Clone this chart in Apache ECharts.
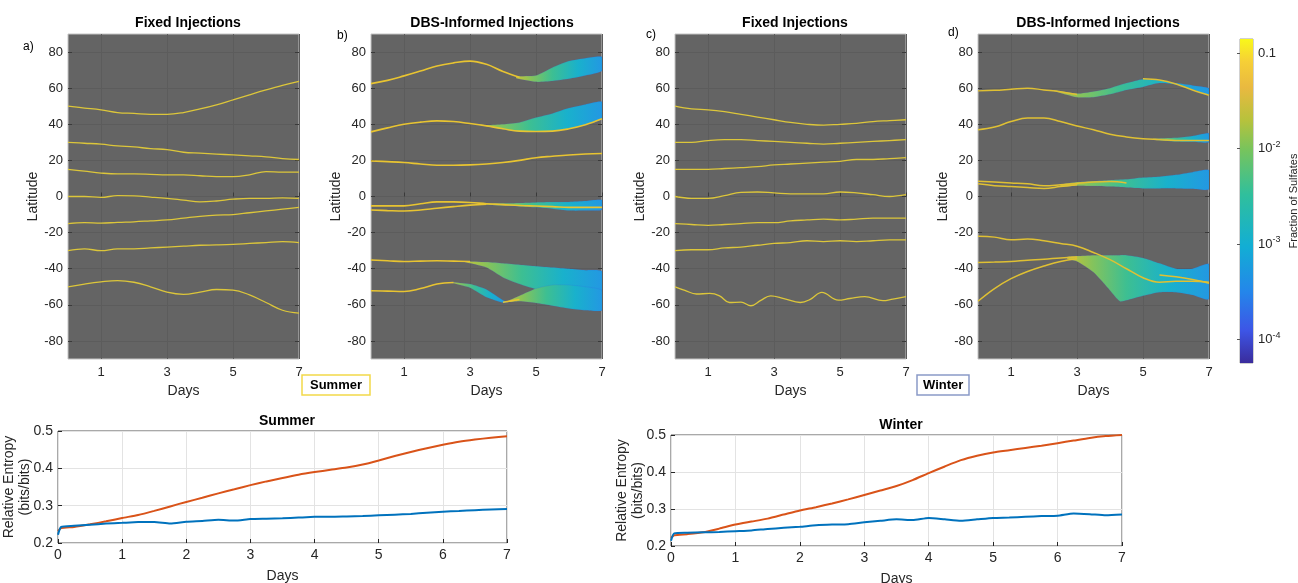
<!DOCTYPE html>
<html><head><meta charset="utf-8">
<script src="https://cdn.jsdelivr.net/npm/echarts@6/dist/echarts.min.js"></script>
<style>html,body{margin:0;padding:0;background:#fff}#c{width:1298px;height:583px}</style>
</head><body><div id="c"></div>
<script>
// ---------- DATA ----------
const days = [0,0.5,1,1.5,2,2.5,3,3.5,4,4.5,5,5.5,6,6.5,7];
const topTicksX = [1,3,5,7];
const topTicksY = [-80,-60,-40,-20,0,20,40,60,80];

// Panel a) Summer, fixed injections
const panelA = [
  [50,49,48,46.5,46,45.5,45.5,46.5,48.5,50.8,53.5,56.3,59,61.5,63.7],
  [30,29.5,29,28,27.5,26.5,26,24.5,24,23.5,23,22.5,22,21,20.5],
  [15,14,13,12.5,12.5,12.3,12,12,11.5,11,11,12,13.8,13.5,13.5],
  [0,0,-0.5,0.5,0.3,-0.3,-1,-2,-3,-2.5,-1.5,-1,-1,-0.8,-1],
  [-15,-14.5,-14.8,-14.3,-14,-13.5,-13,-12,-11,-10.3,-10,-9,-8,-7,-6],
  [-30,-29,-30,-29,-29,-28.5,-28,-27.5,-27,-26.8,-26.5,-26,-25.5,-25,-25.5],
  [-50,-48.5,-47.3,-46.6,-47.5,-50,-53,-54.2,-53,-51.5,-51.8,-54.5,-58.7,-63,-64.6]
];
// Panel b) Summer, DBS-informed injections (yellow cores)
const panelB = [
  [62.5,64.3,66.8,69.5,72.3,74,75,73.2,69.2,66,null,null,null,null,null],
  [35.8,38,40,41.2,41.9,41.5,40.4,39.1,37.5,36.2,36,36.2,37.5,39.7,43],
  [19.7,19.3,18.8,18,17.3,17.3,17.5,18,18.8,20,21.5,22.3,23,23.5,23.8],
  [-5.2,-5.2,-5.2,-4,-3,-3,-3.3,-4,-4.5,-5,-5.3,-5.6,-6,-6,-6],
  [-7.5,-7.8,-8,-7.5,-6.5,-5.6,-4.8,-4.3,null,null,null,null,null,null,null],
  [-35.2,-35.6,-36,-35.8,-35.6,-35.8,-36,null,null,null,null,null,null,null,null],
  [-52.2,-52.4,-52.6,-51,-48.5,-47.6,null,null,null,null,null,null,null,null,null],
  [null,null,null,null,null,null,null,null,-58.6,-57,null,null,null,null,null]
];
// Plume bands [day, lower, upper]
const bandB1 = [[4.4,65.5,66.5],[5,63.5,67],[5.5,64,71.4],[6,65.2,75],[6.5,67,76.6],[7,69.6,77.3]];
const bandB2 = [[3.2,40,40.2],[3.5,38.9,39.6],[4,37.3,40],[4.5,36,41],[5,35.8,43.7],[5.5,36.1,46],[6,37.5,49],[6.5,39.6,51],[7,43,52.4]];
const bandB4 = [[3.5,-4.5,-4],[4,-5,-3.8],[4.5,-5.5,-3.6],[5,-6,-3.3],[5.5,-6.8,-3.1],[6,-7.8,-3],[6.5,-7.8,-2.5],[7,-7.3,-2]];
const bandB5 = [[2.8,-36.2,-35.8],[3.5,-39.3,-36.3],[4,-44.8,-37],[4.5,-48.5,-37.8],[5,-51.3,-38.6],[5.5,-53,-39.3],[6,-55,-40],[6.5,-56.5,-40.8],[7,-57.5,-41.5]];
const bandB6a = [[2.4,-47.6,-47.3],[3,-50.5,-48.5],[3.5,-55.8,-51.5],[4,-58.8,-57.5],[4.1,-58.7,-58.3]];
const bandB6b = [[4.1,-58.6,-58.3],[4.5,-58,-55],[5,-59,-51],[5.5,-60.5,-49],[6,-62,-49],[6.5,-63,-50],[7,-63,-52]];

// Panel c) Winter, fixed injections
const panelC = [
  [50,48.5,48,47,45.5,44,42.5,41,40,39.5,40,40.5,41.5,42,42.5],
  [30,30,31,31.5,31.5,31,30.5,30,29.5,29,29.5,30,30.5,31,31.5],
  [15,15,15,15.5,16,16.5,17.5,18,18.5,19,19.5,20.5,20.5,21,21.5],
  [0,-1,-1,0.5,2.3,2.5,2,1.5,1.5,1.5,2.5,2,1,0,1],
  [-15,-15.5,-16,-15.5,-15,-14.5,-14.5,-13.5,-13,-12.5,-13,-12.5,-12,-12,-12],
  [-30,-29.5,-29.5,-28.5,-28,-27,-26,-25.5,-24.5,-25,-24.5,-25,-24.5,-24,-24]
];
const c7Days = [0,0.3,0.65,1.05,1.35,1.65,2.0,2.3,2.6,2.9,3.3,3.8,4.1,4.45,4.95,5.3,5.75,6.3,6.6,7.0];
const c7Lat  = [-50,-52,-54,-53.7,-55,-58.7,-58.5,-60.5,-57.5,-55,-56.5,-58.7,-57,-53.1,-57.4,-56.5,-55.5,-57.7,-56.8,-55.5];

// Panel d) Winter, DBS-informed injections (yellow cores)
const panelD = [
  [58.5,58.8,59.4,60,59,58,56.5,null,null,null,null,null,null,null,null],
  [null,null,null,null,null,null,null,null,null,null,65.2,64.5,62.3,59,56.1],
  [37,38.5,41.5,43.5,43.5,41.5,39,37,34.5,33,32,31.5,31,31,31],
  [8.5,8,7.5,7,6,6.5,7.2,8,8.3,7.5,null,null,null,null,null],
  [7,6,5.5,5,4.5,5.5,6.5,null,null,null,null,null,null,null,null],
  [-22,-22.5,-24,-23.5,-24.5,-26,-27.5,-31,-35,-40,-45,-47.5,-47,-47,-47.5],
  [null,null,null,null,null,null,null,null,null,null,null,-43.5,-44.5,-46,-48],
  [-36.5,-36.3,-36,-35.3,-34.8,-34,-33.5,null,null,null,null,null,null,null,null],
  [-58,-51,-45.5,-41.5,-38.5,-36,-34.5,null,null,null,null,null,null,null,null]
];
const bandD1 = [[2.3,58.5,58.8],[3,55,57],[3.5,55,58.2],[4,56.6,60],[4.5,59,62.8],[5,60.7,65],[5.5,62.8,64.3],[6,62,62.8],[6.5,59.2,61.5],[7,56.1,60]];
const bandD2 = [[5.3,31.5,32],[6,30.5,32.5],[6.5,30.3,33.5],[7,30,35]];
const bandD3 = [[2.5,5.5,6.5],[3,6,8],[3.5,5.8,8.5],[4,5.5,9],[4.5,5,9.5],[5,4.5,10.5],[5.5,4.5,11],[6,4.5,12],[6.5,4.3,13.5],[7,4,14.5]];
const bandD4 = [[2.7,-34.5,-33.5],[3,-36,-33],[3.5,-42,-32.5],[4,-52,-32.5],[4.3,-58,-32.5],[4.5,-57.5,-32.5],[5,-55,-34],[5.5,-53,-37],[6,-53,-40],[6.5,-54.5,-40],[7,-56.8,-37.5]];

// Colorbar (log scale)
const cbMin = 5.7e-5, cbMax = 0.14;
const cbTicks = [1e-4, 1e-3, 1e-2, 1e-1];

// Relative entropy
const entDays = [0,0.05,0.25,0.5,0.75,1,1.25,1.5,1.75,2,2.25,2.5,2.75,3,3.25,3.5,3.75,4,4.25,4.5,4.75,5,5.25,5.5,5.75,6,6.25,6.5,6.75,7];
const sumDBS   = [0.232,0.240,0.243,0.250,0.258,0.267,0.275,0.286,0.298,0.310,0.321,0.333,0.344,0.355,0.365,0.374,0.383,0.390,0.396,0.402,0.410,0.421,0.433,0.444,0.454,0.463,0.471,0.477,0.482,0.486];
const sumFixed = [0.222,0.243,0.246,0.249,0.252,0.254,0.256,0.256,0.252,0.257,0.259,0.262,0.260,0.264,0.265,0.266,0.268,0.270,0.270,0.271,0.272,0.274,0.276,0.278,0.281,0.284,0.286,0.288,0.290,0.291];
const winDBS   = [0.222,0.229,0.232,0.237,0.247,0.258,0.266,0.274,0.285,0.296,0.305,0.315,0.326,0.338,0.350,0.362,0.378,0.397,0.415,0.432,0.444,0.453,0.459,0.465,0.471,0.478,0.485,0.492,0.497,0.500];
const winFixed = [0.214,0.234,0.236,0.237,0.238,0.240,0.242,0.246,0.249,0.252,0.256,0.258,0.259,0.264,0.268,0.272,0.270,0.276,0.272,0.268,0.272,0.276,0.277,0.279,0.281,0.282,0.288,0.286,0.283,0.285];

// ---------- CHART ----------
const FONT = "'Liberation Sans', Arial, Helvetica, sans-serif";
const TXT = '#262626';
const YEL = '#dcc63a';
const chart = echarts.init(document.getElementById('c'), null, {renderer: 'canvas'});

const topGrids = [
  {left: 68, top: 34, width: 231, height: 325},
  {left: 371, top: 34, width: 231, height: 325},
  {left: 675, top: 34, width: 231, height: 325},
  {left: 978, top: 34, width: 231, height: 325}
];
const grids = topGrids.map(g => Object.assign({show: true, backgroundColor: '#646464', borderColor: '#c4c4c4', borderWidth: 1, outerBoundsMode: 'none'}, g));
grids.push({left: 1240, top: 39, width: 13, height: 324, show: true, borderColor: '#8a8a8a', borderWidth: 0.8, outerBoundsMode: 'none'}); // 4 colorbar
grids.push({left: 58, top: 431, width: 449, height: 112, show: true, borderColor: TXT, borderWidth: 0.8, outerBoundsMode: 'none'}); // 5
grids.push({left: 671, top: 435, width: 451, height: 111, show: true, borderColor: TXT, borderWidth: 0.8, outerBoundsMode: 'none'}); // 6

const xAxes = [], yAxes = [];
for (let i = 0; i < 4; i++) {
  xAxes.push({type: 'value', gridIndex: i, min: 0, max: 7, interval: 1,
    name: 'Days', nameLocation: 'middle', nameGap: 24,
    nameTextStyle: {fontFamily: FONT, fontSize: 14, color: TXT},
    axisLine: {show: false},
    axisTick: {show: true, inside: true, length: 4, customValues: topTicksX, lineStyle: {color: '#3a3a3a'}},
    axisLabel: {customValues: topTicksX, fontFamily: FONT, fontSize: 13, color: TXT, margin: 7},
    splitLine: {show: true, lineStyle: {color: '#5c5c5c', width: 1}}
  });
}
for (let i = 0; i < 4; i++) {
  yAxes.push({type: 'value', gridIndex: i, min: -90, max: 90, interval: 10,
    name: 'Latitude', nameLocation: 'middle', nameGap: 27,
    nameTextStyle: {fontFamily: FONT, fontSize: 14, color: TXT},
    axisLine: {show: false},
    axisTick: {show: true, inside: true, length: 4, customValues: topTicksY, lineStyle: {color: '#3a3a3a'}},
    axisLabel: {customValues: topTicksY, fontFamily: FONT, fontSize: 13, color: TXT, margin: 5},
    splitLine: {show: true, lineStyle: {color: '#5c5c5c', width: 1}}
  });
}
for (let i = 0; i < 4; i++) {
  yAxes.push({type: 'value', gridIndex: i, position: 'right', min: -90, max: 90, interval: 10,
    axisLine: {show: false},
    axisTick: {show: true, inside: true, length: 4, customValues: topTicksY, lineStyle: {color: '#3a3a3a'}},
    axisLabel: {show: false}, splitLine: {show: false}
  });
}
// colorbar axes (x index 4, y index 8)
xAxes.push({type: 'value', gridIndex: 4, min: 0, max: 1, show: false});
yAxes.push({type: 'log', gridIndex: 4, logBase: 10, min: cbMin, max: cbMax, position: 'right',
  name: 'Fraction of Sulfates', nameLocation: 'middle', nameGap: 35, nameRotate: 90,
  nameTextStyle: {fontFamily: FONT, fontSize: 11, color: TXT},
  axisLine: {show: false},
  axisTick: {show: true, inside: true, length: 3, customValues: cbTicks, lineStyle: {color: '#555'}},
  axisLabel: {customValues: cbTicks, margin: 5, fontFamily: FONT, color: TXT,
    formatter: function (v) {
      const e = Math.round(Math.log10(v));
      if (e === -1) return '{b|0.1}';
      return '{b|10}{s|' + e + '}';
    },
    rich: {b: {fontFamily: FONT, fontSize: 13, color: TXT}, s: {fontFamily: FONT, fontSize: 9, color: TXT, padding: [0, 0, 9, 0]}}
  },
  splitLine: {show: false}
});
// entropy axes (x index 5,6 ; y index 9,10)
[5, 6].forEach(gi => {
  xAxes.push({type: 'value', gridIndex: gi, min: 0, max: 7, interval: 1,
    name: 'Days', nameLocation: 'middle', nameGap: 26,
    nameTextStyle: {fontFamily: FONT, fontSize: 14, color: TXT},
    axisLine: {show: false},
    axisTick: {show: true, inside: true, length: 4, lineStyle: {color: TXT}},
    axisLabel: {fontFamily: FONT, fontSize: 14, color: TXT, margin: 5},
    splitLine: {show: true, lineStyle: {color: '#e3e3e3'}}
  });
  yAxes.push({type: 'value', gridIndex: gi, min: 0.2, max: 0.5, interval: 0.1,
    name: 'Relative Entropy\n(bits/bits)', nameLocation: 'middle', nameGap: 25, nameMoveOverlap: false,
    nameTextStyle: {fontFamily: FONT, fontSize: 14, color: TXT, lineHeight: 16},
    axisLine: {show: false},
    axisTick: {show: true, inside: true, length: 4, lineStyle: {color: TXT}},
    axisLabel: {fontFamily: FONT, fontSize: 14, color: TXT, margin: 5, formatter: v => v.toFixed(1)},
    splitLine: {show: true, lineStyle: {color: '#e3e3e3'}}
  });
});

function yIdx(gi) { return gi < 4 ? gi : (gi === 4 ? 8 : gi + 4); }

const series = [];
function addLine(gi, xs, ys, color, width, smooth) {
  series.push({type: 'line', xAxisIndex: gi, yAxisIndex: yIdx(gi), data: xs.map((d, i) => [d, ys[i]]),
    showSymbol: false, smooth: smooth === undefined ? 0.4 : smooth, connectNulls: false, z: 4, silent: true,
    lineStyle: {color: color || YEL, width: width || 1.3}});
}
const fanStops = [
  {offset: 0, color: '#c8c434'}, {offset: 0.18, color: '#84c35c'}, {offset: 0.42, color: '#3dbf92'},
  {offset: 0.72, color: '#19b1cc'}, {offset: 1, color: '#2398e2'}
];
function bandRender(params, api) {
  if (params.dataIndexInside !== 0) return null;
  const n = params.dataInsideLength;
  const top = [], bot = [];
  for (let i = 0; i < n; i++) {
    top.push(api.coord([api.value(0, i), api.value(2, i)]));
    bot.push(api.coord([api.value(0, i), api.value(1, i)]));
  }
  const pts = top.concat(bot.slice().reverse());
  const x0 = top[0][0], x1 = top[n - 1][0];
  return {type: 'polygon', shape: {points: pts, smooth: 0.2},
    style: {fill: {type: 'linear', x: x0, y: 0, x2: x1, y2: 0, global: true, colorStops: fanStops},
      stroke: 'rgba(60,80,230,0.25)', lineWidth: 0.6}};
}
function addBand(gi, band) {
  series.push({type: 'custom', xAxisIndex: gi, yAxisIndex: yIdx(gi), data: band, clip: true, silent: true, z: 3,
    encode: {x: 0, y: [1, 2]}, renderItem: bandRender});
}
// panel a
panelA.forEach(ys => addLine(0, days, ys));
// panel b
[bandB1, bandB2, bandB4, bandB5, bandB6b, bandB6a].forEach(b => addBand(1, b));
panelB.forEach(ys => addLine(1, days, ys, '#e8c431', 1.6));
// panel c
panelC.forEach(ys => addLine(2, days, ys));
addLine(2, c7Days, c7Lat);
// panel d
[bandD1, bandD2, bandD3, bandD4].forEach(b => addBand(3, b));
panelD.forEach(ys => addLine(3, days, ys, '#dfc033', 1.5));

// colorbar
series.push({type: 'custom', xAxisIndex: 4, yAxisIndex: 8, data: [[0, 1, cbMin, cbMax]], silent: true,
  encode: {x: [0, 1], y: [2, 3]},
  renderItem: function (params, api) {
    const p1 = api.coord([api.value(0), api.value(3)]);
    const p2 = api.coord([api.value(1), api.value(2)]);
    return {type: 'rect', shape: {x: p1[0], y: p1[1], width: p2[0] - p1[0], height: p2[1] - p1[1]},
      style: {fill: {type: 'linear', x: 0, y: 0, x2: 0, y2: 1, colorStops: [
        {offset: 0, color: '#f9f81a'}, {offset: 0.07, color: '#f6cf36'}, {offset: 0.15, color: '#e9b940'},
        {offset: 0.25, color: '#b7c23c'}, {offset: 0.34, color: '#78c45c'}, {offset: 0.48, color: '#30bf9c'},
        {offset: 0.64, color: '#12aed4'}, {offset: 0.78, color: '#2486ea'}, {offset: 0.9, color: '#3d55e6'},
        {offset: 1, color: '#3a2c9c'}]}}};
  }});

// entropy lines
addLine(5, entDays, sumDBS, '#d95319', 2, 0.2);
addLine(5, entDays, sumFixed, '#0072bd', 2, 0.2);
addLine(6, entDays, winDBS, '#d95319', 2, 0.2);
addLine(6, entDays, winFixed, '#0072bd', 2, 0.2);

const titleStyle = {fontFamily: FONT, fontSize: 14, fontWeight: 'bold', color: '#000'};
const letterStyle = {fontFamily: FONT, fontSize: 12, fontWeight: 'normal', color: '#000'};
const titles = [
  {text: 'Fixed Injections', left: 183, top: 11, textAlign: 'center', textStyle: titleStyle},
  {text: 'DBS-Informed Injections', left: 487, top: 11, textAlign: 'center', textStyle: titleStyle},
  {text: 'Fixed Injections', left: 790, top: 11, textAlign: 'center', textStyle: titleStyle},
  {text: 'DBS-Informed Injections', left: 1093, top: 11, textAlign: 'center', textStyle: titleStyle},
  {text: 'Summer', left: 282, top: 409, textAlign: 'center', textStyle: titleStyle},
  {text: 'Winter', left: 896, top: 413, textAlign: 'center', textStyle: titleStyle},
  {text: 'a)', left: 18, top: 36, textStyle: letterStyle},
  {text: 'b)', left: 332, top: 25, textStyle: letterStyle},
  {text: 'c)', left: 641, top: 24, textStyle: letterStyle},
  {text: 'd)', left: 943, top: 22, textStyle: letterStyle},
  {text: 'Summer', left: 302, top: 375, padding: [4, 8, 3, 8], borderColor: '#f2d94a', borderWidth: 1.5,
    textStyle: {fontFamily: FONT, fontSize: 13, fontWeight: 'bold', color: '#000'}},
  {text: 'Winter', left: 917, top: 375, padding: [4, 6, 3, 6], borderColor: '#8a9ac8', borderWidth: 1.5,
    textStyle: {fontFamily: FONT, fontSize: 13, fontWeight: 'bold', color: '#000'}}
];

chart.setOption({
  animation: false,
  backgroundColor: '#ffffff',
  title: titles,
  grid: grids,
  xAxis: xAxes,
  yAxis: yAxes,
  series: series
});
</script>
</body></html>
